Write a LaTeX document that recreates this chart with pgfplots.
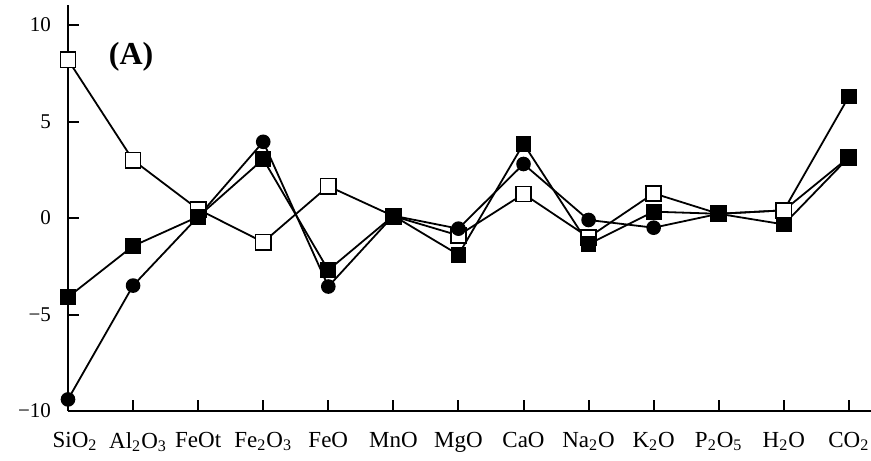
\documentclass[border=0pt]{standalone}
\usepackage{fontspec}
\setmainfont{Liberation Serif}
\usepackage{pgfplots}
\pgfplotsset{compat=1.18}

\begin{document}
\begin{tikzpicture}
\begin{axis}[
  scale only axis,
  width=401.5pt,
  height=203pt,
  xmin=0, xmax=12.34,
  ymin=-10, ymax=11.04,
  axis x line*=bottom,
  axis y line*=left,
  axis line style={-, line width=1pt},
  xtick pos=bottom, ytick pos=left,
  xtick align=inside, ytick align=inside,
  major tick length=5.5pt,
  tick style={black, line width=1pt},
  xtick={0,...,12},
  xticklabels={\hspace{7pt}SiO\textsubscript{2},\hspace{5pt}Al\textsubscript{2}O\textsubscript{3},FeOt,Fe\textsubscript{2}O\textsubscript{3},FeO,MnO,MgO,CaO,Na\textsubscript{2}O,K\textsubscript{2}O,P\textsubscript{2}O\textsubscript{5},H\textsubscript{2}O,CO\textsubscript{2}},
  xticklabel style={font=\fontsize{11.5}{13}\selectfont, yshift=-7pt},
  ytick={-10,-5,0,5,10},
  yticklabels={−10,−5,0,5,10},
  yticklabel style={font=\fontsize{10.5}{12}\selectfont, xshift=-5pt},
  clip=false,
  every axis plot/.append style={black, line width=0.9pt},
]
% open squares
\addplot[mark=square*, mark options={fill=white, line width=0.8pt}, mark size=3.8pt]
  coordinates {(0,8.2) (1,3.0) (2,0.45) (3,-1.25) (4,1.65) (5,0.1) (6,-0.9) (7,1.25) (8,-1.0) (9,1.28) (10,0.22) (11,0.4) (12,3.15)};
% filled circles
\addplot[mark=*, mark size=3.2pt, mark indices={1,...,11}]
  coordinates {(0,-9.4) (1,-3.5) (2,0.07) (3,3.95) (4,-3.55) (5,0.12) (6,-0.55) (7,2.8) (8,-0.1) (9,-0.5) (10,0.22) (11,0.4) (12,6.3)};
\addplot[only marks, mark=square*, mark size=3.5pt] coordinates {(12,6.3)};
% filled squares
\addplot[mark=square*, mark size=3.5pt]
  coordinates {(0,-4.1) (1,-1.45) (2,0.07) (3,3.05) (4,-2.7) (5,0.12) (6,-1.9) (7,3.85) (8,-1.35) (9,0.33) (10,0.22) (11,-0.33) (12,3.15)};
\node[font=\bfseries\fontsize{16}{18}\selectfont] at (axis cs:0.97,8.35) {(A)};
\coordinate (bl) at ([xshift=-34pt,yshift=-24.5pt]rel axis cs:0,0);
\coordinate (tr) at ([yshift=2.5pt]rel axis cs:1,1);
\end{axis}
\pgfresetboundingbox
\path[use as bounding box] (bl) rectangle (tr);
\end{tikzpicture}
\end{document}
